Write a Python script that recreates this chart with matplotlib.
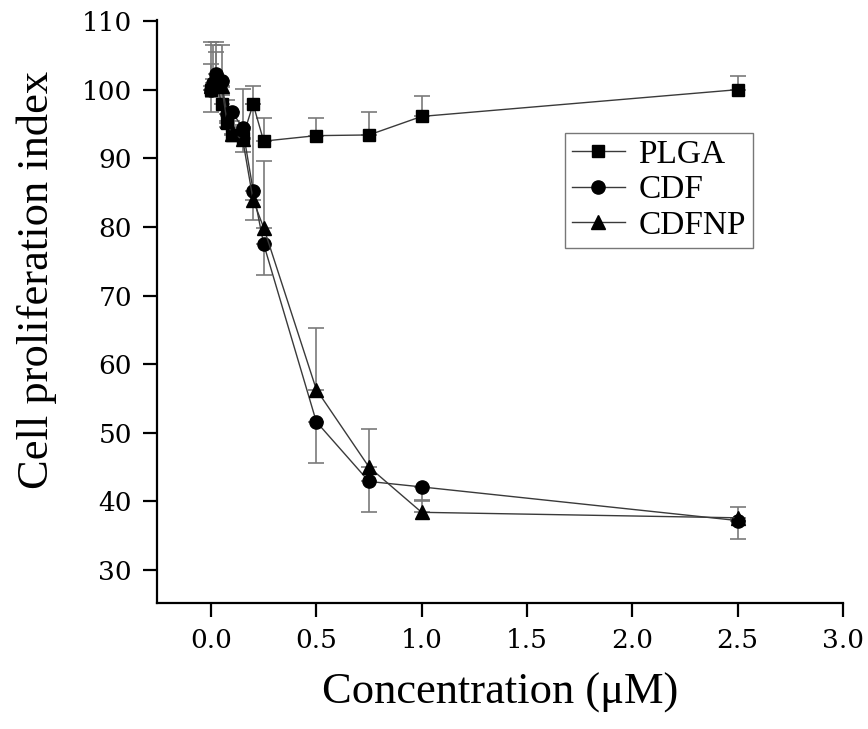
import matplotlib
matplotlib.use("Agg")
import matplotlib.pyplot as plt
import numpy as np

# ---- data ----
conc_plga = [0, 0.025, 0.05, 0.075, 0.1, 0.15, 0.2, 0.25, 0.5, 0.75, 1.0, 2.5]
plga = [100.0, 101.5, 97.9, 95.2, 93.4, 93.0, 97.9, 92.5, 93.3, 93.4, 96.1, 100.0]
plga_err = [3.8, 4.0, 2.5, 2.0, 1.5, 1.5, 2.7, 3.4, 2.5, 3.4, 3.0, 2.0]

conc = [0, 0.01, 0.025, 0.05, 0.075, 0.1, 0.15, 0.2, 0.25, 0.5, 0.75, 1.0, 2.5]
cdf = [100.0, 101.0, 102.3, 101.2, 96.5, 96.8, 94.4, 85.3, 77.5, 51.6, 42.9, 42.1, 37.2]
cdf_err = [3.2, 2.0, 1.5, 2.0, 2.0, 2.5, 3.5, 4.3, 4.5, 6.0, 4.5, 2.0, 2.7]
cdfnp = [100.5, 101.5, 101.5, 100.5, 95.5, 93.5, 92.8, 83.9, 79.9, 56.3, 45.0, 38.4, 37.6]
cdfnp_err = [6.5, 5.0, 5.5, 6.0, 3.0, 2.0, 7.3, 14.0, 9.7, 9.0, 5.6, 1.8, 1.6]

xticks = [0.0, 0.5, 1.0, 1.5, 2.0, 2.5, 3.0]
yticks = [30, 40, 50, 60, 70, 80, 90, 100, 110]

plt.rcParams['font.family'] = ['DejaVu Serif']

fig = plt.figure(figsize=(8.68, 7.29), dpi=100)
ax = fig.add_axes([0.181, 0.173, 0.790, 0.800])

ecol = "#7a7a7a"
lcol = "#3a3a3a"
# error bars (one-sided)
ax.errorbar(conc_plga, plga, yerr=[np.zeros(len(plga_err)), plga_err], fmt="none",
            ecolor=ecol, elinewidth=1.2, capsize=6, capthick=1.2, zorder=2)
ax.errorbar(conc, cdf, yerr=[cdf_err, np.zeros(len(cdf_err))], fmt="none",
            ecolor=ecol, elinewidth=1.2, capsize=6, capthick=1.2, zorder=2)
ax.errorbar(conc, cdfnp, yerr=[np.zeros(len(cdfnp_err)), cdfnp_err], fmt="none",
            ecolor=ecol, elinewidth=1.2, capsize=6, capthick=1.2, zorder=2)

ax.plot(conc_plga, plga, color=lcol, lw=1.0, marker="s", ms=8.5, mfc="black", mec="black", label="PLGA", zorder=3)
ax.plot(conc, cdf, color=lcol, lw=1.0, marker="o", ms=9.5, mfc="black", mec="black", label="CDF", zorder=3)
ax.plot(conc, cdfnp, color=lcol, lw=1.0, marker="^", ms=10, mfc="black", mec="black", label="CDFNP", zorder=3)

ax.set_xlim(-0.256, 3.0)
ax.set_ylim(25.2, 110.2)
ax.set_xticks(xticks)
ax.set_xticklabels([f"{v:.1f}" for v in xticks])
ax.set_yticks(yticks)
ax.set_yticklabels([str(v) for v in yticks])

for s in ["top", "right"]:
    ax.spines[s].set_visible(False)
for s in ["left", "bottom"]:
    ax.spines[s].set_linewidth(1.6)

ax.tick_params(axis="both", direction="out", length=10, width=1.6, labelsize=19)
ax.tick_params(axis="y", pad=8)
ax.tick_params(axis="x", pad=8)

ax.set_xlabel("Concentration (μM)", family="Liberation Serif", fontsize=32, labelpad=14)
ax.set_ylabel("Cell proliferation index", family="Liberation Serif", fontsize=32)
ax.yaxis.set_label_coords(-0.146, 0.554)

leg = ax.legend(loc="upper left", bbox_to_anchor=(0.595, 0.806), prop={"family": "Liberation Serif", "size": 24},
                frameon=True, fancybox=False, edgecolor="#555555", handlelength=1.6,
                handletextpad=0.4, labelspacing=0.15, borderpad=0.2, borderaxespad=0.0)
leg.get_frame().set_linewidth(1.0)

fig.savefig("out.png", dpi=100)
